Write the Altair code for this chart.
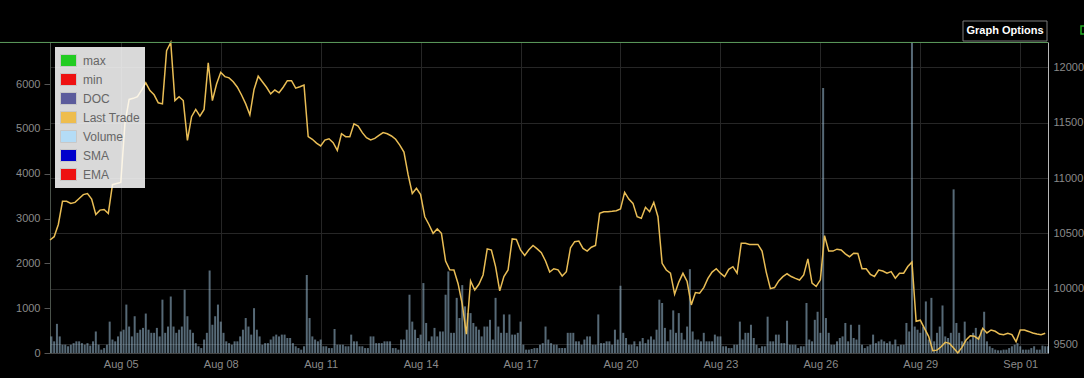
import altair as alt
import pandas as pd

# ---------------- data ----------------
# traded volume, one bar every 2 hours starting 2019-08-02 22:00
volume = [
    370, 260, 650, 370, 185, 185, 150, 185, 220, 260, 260, 220,
    185, 220, 165, 260, 480, 185, 75, 110, 185, 700, 300, 260,
    370, 480, 520, 1080, 590, 370, 820, 450, 520, 560, 880, 520,
    450, 450, 560, 370, 1190, 450, 590, 1260, 590, 450, 520, 590,
    1410, 820, 520, 450, 220, 150, 110, 300, 450, 1840, 630, 820,
    1080, 700, 450, 260, 220, 185, 260, 260, 370, 520, 780, 590,
    410, 1000, 520, 370, 185, 220, 220, 300, 370, 410, 370, 410,
    410, 335, 335, 220, 150, 110, 75, 150, 1740, 780, 370, 300,
    260, 300, 150, 150, 110, 110, 535, 185, 185, 185, 150, 150,
    410, 260, 260, 150, 150, 110, 110, 370, 370, 220, 220, 220,
    260, 260, 260, 110, 110, 75, 300, 300, 520, 1300, 700, 520,
    335, 410, 1560, 670, 260, 370, 560, 370, 480, 480, 1300, 1820,
    450, 450, 1230, 780, 1515, 1040, 890, 890, 670, 590, 520, 370,
    590, 590, 740, 300, 1230, 590, 450, 860, 450, 860, 410, 410,
    450, 700, 185, 75, 75, 90, 110, 110, 185, 220, 590, 300,
    220, 185, 185, 110, 110, 110, 450, 450, 450, 260, 260, 185,
    300, 370, 370, 185, 185, 860, 220, 220, 260, 260, 185, 520,
    300, 1500, 450, 335, 185, 185, 260, 150, 260, 335, 220, 300,
    370, 300, 520, 1190, 1115, 560, 260, 520, 950, 450, 890, 450,
    300, 590, 1870, 480, 300, 300, 260, 450, 260, 260, 260, 410,
    370, 370, 150, 150, 110, 110, 185, 185, 700, 300, 450, 450,
    630, 335, 185, 110, 150, 150, 810, 260, 260, 410, 410, 220,
    220, 720, 185, 185, 185, 110, 150, 150, 1115, 300, 260, 740,
    920, 450, 5910, 780, 450, 185, 185, 260, 335, 370, 670, 260,
    630, 335, 300, 630, 185, 110, 150, 185, 410, 220, 260, 300,
    260, 220, 260, 185, 300, 150, 185, 185, 670, 480, 6930, 590,
    520, 450, 590, 1150, 300, 1230, 260, 450, 590, 1060, 370, 335,
    450, 3650, 670, 450, 260, 700, 260, 300, 450, 560, 370, 520,
    920, 260, 150, 110, 75, 60, 60, 75, 75, 110, 150, 185,
    220, 150, 75, 75, 75, 110, 150, 75, 75, 165, 150, 150,
]

# last trade price, one point every 3 hours starting 2019-08-02 21:00
last_trade = [
    10440, 10470, 10580, 10790, 10790, 10770, 10780, 10815, 10850, 10860,
    10810, 10670, 10710, 10715, 10680, 10940, 10950, 10960, 11494, 11710,
    11720, 11735, 11795, 11860, 11790, 11752, 11680, 11670, 12150, 12225,
    11700, 11735, 11700, 11340, 11554, 11620, 11560, 11620, 12040, 11700,
    11850, 11955, 11916, 11905, 11870, 11820, 11750, 11670, 11570, 11800,
    11920, 11870, 11820, 11760, 11795, 11770, 11820, 11880, 11880, 11812,
    11825, 11840, 11374, 11350, 11315, 11290, 11343, 11355, 11320, 11250,
    11400, 11374, 11374, 11490, 11470, 11410, 11365, 11345, 11358, 11385,
    11410, 11400, 11380, 11350, 11298, 11235, 11030, 10860, 10907, 10850,
    10650, 10580, 10500, 10540, 10500, 10250, 10170, 10169, 10045, 9860,
    9590, 10070, 9988, 10040, 10124, 10360, 10349, 10200, 9980, 10110,
    10169, 10450, 10445, 10350, 10300, 10352, 10390, 10360, 10325, 10250,
    10150, 10180, 10170, 10115, 10154, 10370, 10425, 10430, 10364, 10340,
    10375, 10390, 10681, 10695, 10696, 10700, 10705, 10720, 10870, 10810,
    10771, 10650, 10636, 10735, 10696, 10780, 10650, 10229, 10169, 10140,
    9950, 10060, 10139, 10065, 9853, 9965, 9960, 10010, 10093, 10150,
    10180, 10140, 10110, 10175, 10199, 10140, 10410, 10410, 10400, 10400,
    10400, 10340, 10150, 10000, 10010, 10070, 10109, 10135, 10110, 10093,
    10078, 10125, 10270, 10050, 10020, 10080, 10480, 10340, 10340, 10357,
    10350, 10315, 10289, 10320, 10319, 10180, 10180, 10130, 10110, 10169,
    10160, 10140, 10154, 10095, 10140, 10140, 10200, 10240, 9705, 9715,
    9642, 9570, 9440, 9445, 9475, 9515, 9506, 9465, 9420, 9470,
    9536, 9575, 9570, 9545, 9642, 9600, 9627, 9615, 9590, 9585,
    9597, 9585, 9521, 9627, 9627, 9614, 9600, 9590, 9585, 9597,
]

legend_names = ["max", "min", "DOC", "Last Trade", "Volume", "SMA", "EMA"]
legend_colors = ["#22cc22", "#ee1111", "#5c5c9c", "#eebd4e", "#b4dcf6", "#0000cc", "#ee1111"]

volume_ticks = [0, 1000, 2000, 3000, 4000, 5000, 6000]
price_ticks = [9500, 10000, 10500, 11000, 11500, 12000]
date_ticks = [(8, 5), (8, 8), (8, 11), (8, 14), (8, 17), (8, 20), (8, 23), (8, 26), (8, 29), (9, 1)]
button_text = ["Graph Options"]

# ---------------- tables ----------------
vol_df = pd.DataFrame({
    "time": pd.date_range("2019-08-02 22:00", periods=len(volume), freq="2h"),
    "volume": volume,
    "series": "Volume",
})
price_df = pd.DataFrame({
    "time": pd.date_range("2019-08-02 21:00", periods=len(last_trade), freq="3h"),
    "price": last_trade,
})

FONT = "Liberation Sans"

x_scale = alt.Scale(domain=[alt.DateTime(year=2019, month=8, date=2, hours=21),
                            alt.DateTime(year=2019, month=9, date=1, hours=20)],
                    padding=0)
x_axis = alt.Axis(
    values=[alt.DateTime(year=2019, month=m, date=d) for m, d in date_ticks],
    format="%b %d", title=None, grid=True, gridColor="#262626", ticks=False,
    domainColor="#444", labelColor="#8a8a8a", labelFontSize=11, labelFont=FONT,
    labelPadding=5,
)
VOL_DOMAIN = [0, 6937]
PRICE_DOMAIN = [9419, 12229]

bars = alt.Chart(vol_df).mark_bar(size=2, opacity=0.48).encode(
    x=alt.X("time:T", scale=x_scale, axis=x_axis),
    y=alt.Y("volume:Q", scale=alt.Scale(domain=VOL_DOMAIN, nice=False, zero=True),
            axis=alt.Axis(
                orient="left", values=volume_ticks, format="d", title=None, grid=False,
                domainColor="#4a524a", tickColor="#555", tickSize=6, labelPadding=4,
                labelColor="#8a8a8a", labelFontSize=11, labelFont=FONT)),
    color=alt.Color("series:N", scale=alt.Scale(domain=legend_names, range=legend_colors),
                    legend=alt.Legend(
                        title=None, orient="none", legendX=5, legendY=5,
                        fillColor="rgba(255,255,255,0.85)", padding=5, cornerRadius=0,
                        symbolType="M-1,-0.75H1V0.75H-1Z", symbolSize=256,
                        symbolOpacity=1, symbolStrokeColor="#c8c8c8", symbolStrokeWidth=1,
                        labelColor="#666", labelFontSize=12, labelFont=FONT,
                        labelOffset=6, rowPadding=2)),
)

line = alt.Chart(price_df).mark_line(color="#e9bd55", strokeWidth=1.5).encode(
    x=alt.X("time:T", scale=x_scale),
    y=alt.Y("price:Q", scale=alt.Scale(domain=PRICE_DOMAIN, nice=False, zero=False),
            axis=alt.Axis(
                orient="right", values=price_ticks, format="d", title=None, grid=True,
                gridColor="#262626", ticks=False, domainColor="#b8b8b8", labelPadding=5,
                labelColor="#8a8a8a", labelFontSize=11, labelFont=FONT)),
)

max_rule = alt.Chart(price_df).mark_rule(color="#5e9e5e", strokeWidth=1).encode(
    y=alt.Y("max(price):Q", scale=alt.Scale(domain=PRICE_DOMAIN, nice=False, zero=False),
            axis=None),
    x=alt.value(-50), x2=alt.value(998),
)

btn_df = pd.DataFrame({"label": button_text})
btn_box = alt.Chart(btn_df).mark_rect(fill="#000", stroke="#7a7a7a", strokeWidth=1).encode(
    x=alt.value(913), x2=alt.value(997), y=alt.value(-21), y2=alt.value(-1))
btn_text = alt.Chart(btn_df).mark_text(
    font=FONT, fontSize=11, fontWeight="bold", color="#ffffff",
    align="center", baseline="middle").encode(
    x=alt.value(955), y=alt.value(-11), text="label:N")
corner = alt.Chart(btn_df).mark_rect(fill="#000", stroke="#22aa22", strokeWidth=1.5).encode(
    x=alt.value(1031), x2=alt.value(1040), y=alt.value(-16), y2=alt.value(-8))

chart = alt.layer(bars, line, max_rule, btn_box, btn_text, corner).resolve_scale(
    y="independent"
).properties(
    width=998, height=311,
    background="#000000",
    padding={"left": 50, "top": 42, "right": 36, "bottom": 25},
    autosize=alt.AutoSizeParams(type="none"),
).configure_view(stroke=None)

chart.save("out.html", embed_options={"renderer": "svg", "actions": False})
